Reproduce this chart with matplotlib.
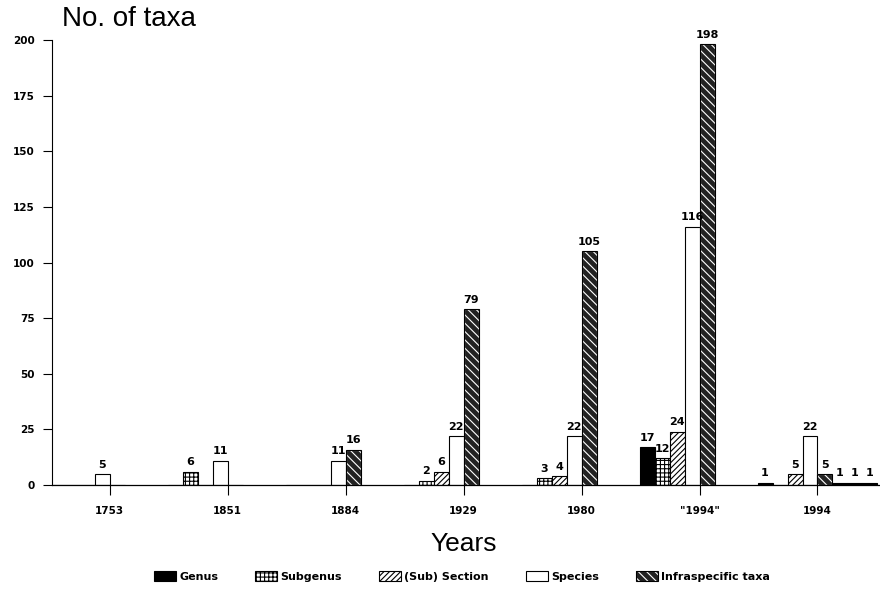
import matplotlib
matplotlib.use("Agg")
import matplotlib.pyplot as plt
import matplotlib.patches as mpatches
from matplotlib.legend_handler import HandlerTuple
import numpy as np

years = ['1753', '1851', '1884', '1929', '1980', '"1994"', '1994']
genus = [0, 0, 0, 0, 0, 17, 1]
subgenus = [0, 6, 0, 2, 3, 12, 0]
section = [0, 0, 0, 6, 4, 24, 5]
species = [5, 11, 11, 22, 22, 116, 22]
infra = [0, 0, 16, 79, 105, 198, 5]
extra_1994 = [1, 1, 1]
series_names = ['Genus', 'Subgenus', '(Sub) Section', 'Species', 'Infraspecific taxa']

plt.rcParams['hatch.linewidth'] = 0.8
fig = plt.figure(figsize=(8.8, 5.96), dpi=100)
ax = fig.add_axes([0.059, 0.186, 0.941, 0.747])

x = np.arange(len(years))
w = 0.127

styles = [
    dict(facecolor='black', edgecolor='black', hatch=None),
    dict(facecolor='white', edgecolor='black', hatch='++++'),
    dict(facecolor='white', edgecolor='black', hatch='//////'),
    dict(facecolor='white', edgecolor='black', hatch=None),
    dict(facecolor='#222222', edgecolor='white', hatch='\\\\\\\\'),
]
data = [genus, subgenus, section, species, infra]
offsets = [-4, -3, -2, -1, 0]

lab_font = dict(fontsize=8, fontweight='bold', family='DejaVu Sans')
for vals, st, off in zip(data, styles, offsets):
    pos = x + off * w
    ax.bar(pos, vals, width=w, align='edge', linewidth=0.8, **st)
    if st['edgecolor'] == 'white':
        ax.bar(pos, vals, width=w, align='edge', fill=False, edgecolor='black', linewidth=0.8)
    for p, v in zip(pos, vals):
        if v > 0:
            ax.text(p + w / 2, v + 2, str(v), ha='center', va='bottom', **lab_font)

# extra small bars after the last group
epos = x[-1] + w * np.arange(1, len(extra_1994) + 1)
ax.bar(epos, extra_1994, width=w, align='edge', facecolor='black', edgecolor='black', linewidth=0.8)
for p, v in zip(epos, extra_1994):
    ax.text(p + w / 2, v + 2, str(v), ha='center', va='bottom', **lab_font)

ax.set_xlim(-0.49, 6.53)
ax.set_ylim(0, 200)
ax.set_yticks(np.arange(0, 201, 25))
ax.set_yticklabels([str(v) for v in range(0, 201, 25)], fontsize=7.5, fontweight='bold')
ax.set_xticks(x)
ax.set_xticklabels(years, fontsize=7.5, fontweight='bold')
ax.tick_params(axis='y', direction='out', length=6.5, width=0.8, pad=6)
ax.tick_params(axis='x', direction='out', length=7, width=0.8, pad=8)
for s in ['top', 'right']:
    ax.spines[s].set_visible(False)
ax.spines['left'].set_linewidth(0.8)
ax.spines['bottom'].set_linewidth(0.9)

fig.text(0.07, 0.968, 'No. of taxa', fontsize=20, family='Liberation Sans', ha='left', va='center')
fig.text(0.527, 0.088, 'Years', fontsize=19, family='Liberation Sans', ha='center', va='center')

handles = []
for st, name in zip(styles, series_names):
    if st['edgecolor'] == 'white':
        h1 = mpatches.Patch(facecolor=st['facecolor'], edgecolor='white', hatch=st['hatch'], linewidth=0)
        h2 = mpatches.Patch(fill=False, edgecolor='black', linewidth=0.8)
        handles.append((h1, h2))
    else:
        handles.append(mpatches.Patch(facecolor=st['facecolor'], edgecolor='black', hatch=st['hatch'], linewidth=0.8))
leg = fig.legend(handles=handles, labels=series_names, loc='center', bbox_to_anchor=(0.525, 0.033), ncol=5,
                 frameon=False, prop=dict(size=8, weight='bold'), handlelength=2.0, handleheight=1.0,
                 handletextpad=0.3, columnspacing=3.3,
                 handler_map={tuple: HandlerTuple(ndivide=1, pad=0)})

fig.savefig('out.png', dpi=100)
